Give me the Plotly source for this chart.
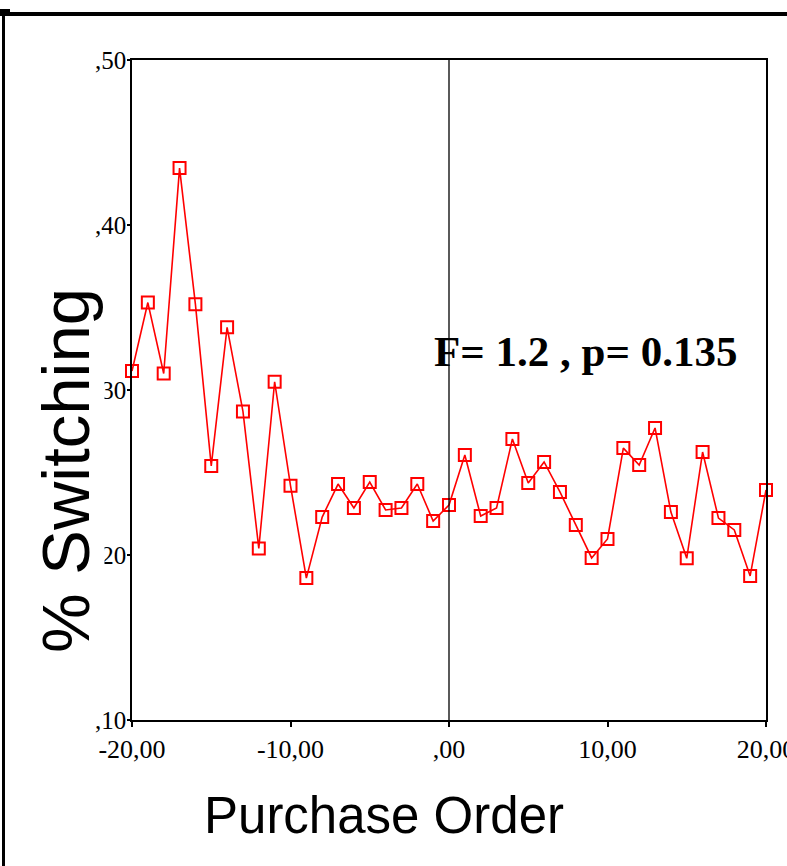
import plotly.graph_objects as go

# ---- data ----
purchase_order = list(range(-20, 21))
pct_switching = [
    0.3115, 0.353, 0.310, 0.4345, 0.352, 0.254, 0.338, 0.287, 0.204, 0.305,
    0.242, 0.186, 0.223, 0.243, 0.2285, 0.2442, 0.2273, 0.2285, 0.243, 0.2206,
    0.2303, 0.2606, 0.2236, 0.2285, 0.2703, 0.2436, 0.2564, 0.2382, 0.2182, 0.1982,
    0.2097, 0.2648, 0.2545, 0.277, 0.226, 0.198, 0.2624, 0.2224, 0.2152, 0.1873,
    0.2394,
]
x_tickvals = [-20, -10, 0, 10, 20]
x_ticktext = ["-20,00", "-10,00", ",00", "10,00", "20,00"]
y_tickvals = [0.10, 0.20, 0.30, 0.40, 0.50]
y_ticktext = [",10", ",20", ",30", ",40", ",50"]
stat_text = "F= 1.2 , p= 0.135"

W, H = 787, 866
L, R, T, B = 132, 21, 60, 146
pw, ph = W - L - R, H - T - B


def px_x(p):
    return (p - L) / pw


def px_y(p):
    return (H - B - p) / ph


fig = go.Figure()
fig.add_trace(go.Scatter(
    x=purchase_order, y=pct_switching, mode="lines+markers",
    line=dict(color="#ff0000", width=1.6),
    marker=dict(symbol="square-open", size=12, color="#ff0000",
                line=dict(color="#ff0000", width=2)),
    cliponaxis=False, showlegend=False,
))

serif = "Liberation Serif, Times New Roman, serif"
fig.update_xaxes(range=[-20, 20], tickvals=x_tickvals, ticktext=x_ticktext,
                 showline=True, linecolor="black", linewidth=1.5, mirror=True,
                 ticks="outside", ticklen=5, tickwidth=1.5, tickcolor="black",
                 ticklabeloverflow="allow", automargin=False,
                 showgrid=False, zeroline=False,
                 tickfont=dict(family=serif, size=26, color="black"))
fig.update_yaxes(range=[0.10, 0.50], tickvals=y_tickvals, ticktext=y_ticktext,
                 showline=True, linecolor="black", linewidth=1.5, mirror=True,
                 ticks="outside", ticklen=3, tickwidth=1.5, tickcolor="black",
                 ticklabelstandoff=-4, ticklabeloverflow="allow", automargin=False,
                 showgrid=False, zeroline=False,
                 tickfont=dict(family=serif, size=25, color="black"))

# vertical reference line at 0
fig.add_shape(type="line", xref="x", yref="y", x0=0, x1=0, y0=0.10, y1=0.50,
              line=dict(color="black", width=1.3))

# outer frame
fig.add_shape(type="line", xref="paper", yref="paper",
              x0=px_x(0), x1=px_x(W), y0=px_y(14), y1=px_y(14),
              line=dict(color="black", width=4))
fig.add_shape(type="line", xref="paper", yref="paper",
              x0=px_x(3.5), x1=px_x(3.5), y0=px_y(12), y1=px_y(H),
              line=dict(color="black", width=3))
fig.add_shape(type="rect", xref="paper", yref="paper",
              x0=px_x(0), x1=px_x(10), y0=px_y(13), y1=px_y(9),
              line=dict(width=0), fillcolor="black")

fig.add_annotation(x=px_x(585), y=px_y(351), xref="paper", yref="paper",
                   text="<b>" + stat_text + "</b>", showarrow=False,
                   xanchor="center", yanchor="middle",
                   font=dict(family=serif, size=43, color="black"))

fig.add_annotation(x=px_x(65), y=px_y(471), xref="paper", yref="paper",
                   text="% Switching", textangle=-90, showarrow=False,
                   xanchor="center", yanchor="middle", bgcolor="white",
                   font=dict(family="Liberation Sans, Arial, sans-serif", size=67, color="black"))

fig.add_annotation(x=px_x(384), y=px_y(815), xref="paper", yref="paper",
                   text="Purchase Order", showarrow=False,
                   xanchor="center", yanchor="middle",
                   font=dict(family="Liberation Sans, Arial, sans-serif", size=51, color="black"))

fig.update_layout(width=W, height=H, autosize=False,
                  margin=dict(l=L, r=R, t=T, b=B, pad=0, autoexpand=False),
                  plot_bgcolor="white", paper_bgcolor="white")

fig.write_html("out.html")
